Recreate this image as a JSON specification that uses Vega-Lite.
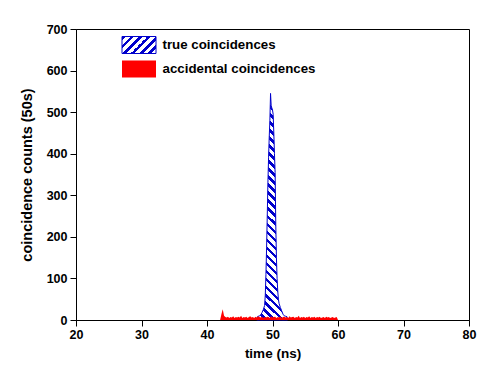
{
  "$schema": "https://vega.github.io/schema/vega-lite/v6.json",
  "width": 393,
  "height": 291,
  "autosize": {"type": "none"},
  "padding": {"left": 76, "top": 29, "right": 22, "bottom": 48},
  "background": "white",
  "config": {
    "font": "Liberation Sans",
    "view": {"stroke": "black", "strokeWidth": 1},
    "axis": {
      "grid": false,
      "domainColor": "black",
      "tickColor": "black",
      "labelColor": "black",
      "titleColor": "black",
      "labelFont": "Liberation Sans",
      "titleFont": "Liberation Sans",
      "labelFontWeight": "bold",
      "titleFontWeight": "bold",
      "labelFontSize": 12.5,
      "labelFlush": false,
      "tickSize": 6
    },
    "legend": {
      "title": null,
      "orient": "none",
      "padding": 0,
      "offset": 0,
      "labelFont": "Liberation Sans",
      "labelFontWeight": "bold",
      "labelFontSize": 13.3,
      "labelColor": "black",
      "labelOffset": 14.5,
      "symbolType": "M-2,-1L2,-1L2,1L-2,1Z",
      "symbolSize": 289,
      "symbolStrokeWidth": 1,
      "symbolOpacity": 1
    }
  },
  "data": {
    "values": [
      {"time": 47.6, "counts": 0, "series": "true coincidences"},
      {"time": 47.7, "counts": 8, "series": "true coincidences"},
      {"time": 48.0, "counts": 10, "series": "true coincidences"},
      {"time": 48.2, "counts": 12, "series": "true coincidences"},
      {"time": 48.4, "counts": 18, "series": "true coincidences"},
      {"time": 48.6, "counts": 25, "series": "true coincidences"},
      {"time": 48.8, "counts": 35, "series": "true coincidences"},
      {"time": 48.9, "counts": 60, "series": "true coincidences"},
      {"time": 49.0, "counts": 110, "series": "true coincidences"},
      {"time": 49.1, "counts": 175, "series": "true coincidences"},
      {"time": 49.2, "counts": 250, "series": "true coincidences"},
      {"time": 49.3, "counts": 330, "series": "true coincidences"},
      {"time": 49.4, "counts": 390, "series": "true coincidences"},
      {"time": 49.5, "counts": 440, "series": "true coincidences"},
      {"time": 49.6, "counts": 480, "series": "true coincidences"},
      {"time": 49.7, "counts": 545, "series": "true coincidences"},
      {"time": 49.8, "counts": 515, "series": "true coincidences"},
      {"time": 49.9, "counts": 510, "series": "true coincidences"},
      {"time": 50.0, "counts": 505, "series": "true coincidences"},
      {"time": 50.1, "counts": 495, "series": "true coincidences"},
      {"time": 50.2, "counts": 450, "series": "true coincidences"},
      {"time": 50.3, "counts": 400, "series": "true coincidences"},
      {"time": 50.4, "counts": 355, "series": "true coincidences"},
      {"time": 50.5, "counts": 230, "series": "true coincidences"},
      {"time": 50.6, "counts": 150, "series": "true coincidences"},
      {"time": 50.7, "counts": 100, "series": "true coincidences"},
      {"time": 50.8, "counts": 70, "series": "true coincidences"},
      {"time": 50.9, "counts": 50, "series": "true coincidences"},
      {"time": 51.0, "counts": 40, "series": "true coincidences"},
      {"time": 51.2, "counts": 30, "series": "true coincidences"},
      {"time": 51.4, "counts": 22, "series": "true coincidences"},
      {"time": 51.6, "counts": 14, "series": "true coincidences"},
      {"time": 51.8, "counts": 10, "series": "true coincidences"},
      {"time": 52.0, "counts": 9, "series": "true coincidences"},
      {"time": 52.2, "counts": 8, "series": "true coincidences"},
      {"time": 52.3, "counts": 0, "series": "true coincidences"},
      {"time": 42.0, "counts": 0, "series": "accidental coincidences"},
      {"time": 42.2, "counts": 14, "series": "accidental coincidences"},
      {"time": 42.4, "counts": 26, "series": "accidental coincidences"},
      {"time": 42.6, "counts": 10, "series": "accidental coincidences"},
      {"time": 42.8, "counts": 7, "series": "accidental coincidences"},
      {"time": 43.0, "counts": 6, "series": "accidental coincidences"},
      {"time": 43.2, "counts": 8, "series": "accidental coincidences"},
      {"time": 43.4, "counts": 5, "series": "accidental coincidences"},
      {"time": 43.6, "counts": 7, "series": "accidental coincidences"},
      {"time": 43.8, "counts": 6, "series": "accidental coincidences"},
      {"time": 44.0, "counts": 9, "series": "accidental coincidences"},
      {"time": 44.2, "counts": 5, "series": "accidental coincidences"},
      {"time": 44.4, "counts": 7, "series": "accidental coincidences"},
      {"time": 44.6, "counts": 6, "series": "accidental coincidences"},
      {"time": 44.8, "counts": 8, "series": "accidental coincidences"},
      {"time": 45.0, "counts": 6, "series": "accidental coincidences"},
      {"time": 45.2, "counts": 10, "series": "accidental coincidences"},
      {"time": 45.4, "counts": 5, "series": "accidental coincidences"},
      {"time": 45.6, "counts": 7, "series": "accidental coincidences"},
      {"time": 45.8, "counts": 6, "series": "accidental coincidences"},
      {"time": 46.0, "counts": 8, "series": "accidental coincidences"},
      {"time": 46.2, "counts": 5, "series": "accidental coincidences"},
      {"time": 46.4, "counts": 7, "series": "accidental coincidences"},
      {"time": 46.6, "counts": 9, "series": "accidental coincidences"},
      {"time": 46.8, "counts": 6, "series": "accidental coincidences"},
      {"time": 47.0, "counts": 7, "series": "accidental coincidences"},
      {"time": 47.2, "counts": 5, "series": "accidental coincidences"},
      {"time": 47.4, "counts": 8, "series": "accidental coincidences"},
      {"time": 47.6, "counts": 6, "series": "accidental coincidences"},
      {"time": 47.8, "counts": 9, "series": "accidental coincidences"},
      {"time": 48.0, "counts": 7, "series": "accidental coincidences"},
      {"time": 48.2, "counts": 6, "series": "accidental coincidences"},
      {"time": 48.4, "counts": 8, "series": "accidental coincidences"},
      {"time": 48.6, "counts": 5, "series": "accidental coincidences"},
      {"time": 48.8, "counts": 7, "series": "accidental coincidences"},
      {"time": 49.0, "counts": 6, "series": "accidental coincidences"},
      {"time": 49.2, "counts": 8, "series": "accidental coincidences"},
      {"time": 49.4, "counts": 7, "series": "accidental coincidences"},
      {"time": 49.6, "counts": 5, "series": "accidental coincidences"},
      {"time": 49.8, "counts": 9, "series": "accidental coincidences"},
      {"time": 50.0, "counts": 6, "series": "accidental coincidences"},
      {"time": 50.2, "counts": 7, "series": "accidental coincidences"},
      {"time": 50.4, "counts": 8, "series": "accidental coincidences"},
      {"time": 50.6, "counts": 5, "series": "accidental coincidences"},
      {"time": 50.8, "counts": 7, "series": "accidental coincidences"},
      {"time": 51.0, "counts": 6, "series": "accidental coincidences"},
      {"time": 51.2, "counts": 9, "series": "accidental coincidences"},
      {"time": 51.4, "counts": 5, "series": "accidental coincidences"},
      {"time": 51.6, "counts": 7, "series": "accidental coincidences"},
      {"time": 51.8, "counts": 8, "series": "accidental coincidences"},
      {"time": 52.0, "counts": 6, "series": "accidental coincidences"},
      {"time": 52.2, "counts": 7, "series": "accidental coincidences"},
      {"time": 52.4, "counts": 5, "series": "accidental coincidences"},
      {"time": 52.6, "counts": 9, "series": "accidental coincidences"},
      {"time": 52.8, "counts": 6, "series": "accidental coincidences"},
      {"time": 53.0, "counts": 7, "series": "accidental coincidences"},
      {"time": 53.2, "counts": 8, "series": "accidental coincidences"},
      {"time": 53.4, "counts": 5, "series": "accidental coincidences"},
      {"time": 53.6, "counts": 7, "series": "accidental coincidences"},
      {"time": 53.8, "counts": 6, "series": "accidental coincidences"},
      {"time": 54.0, "counts": 10, "series": "accidental coincidences"},
      {"time": 54.2, "counts": 5, "series": "accidental coincidences"},
      {"time": 54.4, "counts": 7, "series": "accidental coincidences"},
      {"time": 54.6, "counts": 6, "series": "accidental coincidences"},
      {"time": 54.8, "counts": 8, "series": "accidental coincidences"},
      {"time": 55.0, "counts": 5, "series": "accidental coincidences"},
      {"time": 55.2, "counts": 7, "series": "accidental coincidences"},
      {"time": 55.4, "counts": 6, "series": "accidental coincidences"},
      {"time": 55.6, "counts": 9, "series": "accidental coincidences"},
      {"time": 55.8, "counts": 5, "series": "accidental coincidences"},
      {"time": 56.0, "counts": 7, "series": "accidental coincidences"},
      {"time": 56.2, "counts": 6, "series": "accidental coincidences"},
      {"time": 56.4, "counts": 8, "series": "accidental coincidences"},
      {"time": 56.6, "counts": 5, "series": "accidental coincidences"},
      {"time": 56.8, "counts": 7, "series": "accidental coincidences"},
      {"time": 57.0, "counts": 6, "series": "accidental coincidences"},
      {"time": 57.2, "counts": 8, "series": "accidental coincidences"},
      {"time": 57.4, "counts": 5, "series": "accidental coincidences"},
      {"time": 57.6, "counts": 6, "series": "accidental coincidences"},
      {"time": 57.8, "counts": 7, "series": "accidental coincidences"},
      {"time": 58.0, "counts": 5, "series": "accidental coincidences"},
      {"time": 58.2, "counts": 8, "series": "accidental coincidences"},
      {"time": 58.4, "counts": 6, "series": "accidental coincidences"},
      {"time": 58.6, "counts": 7, "series": "accidental coincidences"},
      {"time": 58.8, "counts": 5, "series": "accidental coincidences"},
      {"time": 59.0, "counts": 6, "series": "accidental coincidences"},
      {"time": 59.2, "counts": 7, "series": "accidental coincidences"},
      {"time": 59.4, "counts": 5, "series": "accidental coincidences"},
      {"time": 59.6, "counts": 6, "series": "accidental coincidences"},
      {"time": 59.8, "counts": 7, "series": "accidental coincidences"},
      {"time": 60.0, "counts": 0, "series": "accidental coincidences"}
    ]
  },
  "encoding": {
    "x": {
      "field": "time",
      "type": "quantitative",
      "title": "time (ns)",
      "scale": {"domain": [20, 80], "nice": false},
      "axis": {"values": [20, 30, 40, 50, 60, 70, 80], "titleFontSize": 13.5, "titlePadding": 6, "labelPadding": 2}
    },
    "y": {
      "field": "counts",
      "type": "quantitative",
      "title": "coincidence counts (50s)",
      "scale": {"domain": [0, 700], "nice": false},
      "axis": {"values": [0, 100, 200, 300, 400, 500, 600, 700], "titleFontSize": 14.5, "titlePadding": 12, "labelPadding": 3}
    }
  },
  "layer": [
    {
      "transform": [{"filter": "datum.series === 'true coincidences'"}],
      "mark": {
        "type": "area",
        "stroke": "#0000cc",
        "strokeWidth": 1,
        "fill": {
          "gradient": "linear",
          "x1": 0, "y1": 1, "x2": 0.1506, "y2": -0.1147,
          "stops": [
            {"offset": 0, "color": "#0000cc"}, {"offset": 0.0141, "color": "#0000cc"}, {"offset": 0.0141, "color": "#ffffff"}, {"offset": 0.0313, "color": "#ffffff"},
            {"offset": 0.0313, "color": "#0000cc"}, {"offset": 0.0453, "color": "#0000cc"}, {"offset": 0.0453, "color": "#ffffff"}, {"offset": 0.0625, "color": "#ffffff"},
            {"offset": 0.0625, "color": "#0000cc"}, {"offset": 0.0766, "color": "#0000cc"}, {"offset": 0.0766, "color": "#ffffff"}, {"offset": 0.0938, "color": "#ffffff"},
            {"offset": 0.0938, "color": "#0000cc"}, {"offset": 0.1078, "color": "#0000cc"}, {"offset": 0.1078, "color": "#ffffff"}, {"offset": 0.125, "color": "#ffffff"},
            {"offset": 0.125, "color": "#0000cc"}, {"offset": 0.1391, "color": "#0000cc"}, {"offset": 0.1391, "color": "#ffffff"}, {"offset": 0.1563, "color": "#ffffff"},
            {"offset": 0.1563, "color": "#0000cc"}, {"offset": 0.1703, "color": "#0000cc"}, {"offset": 0.1703, "color": "#ffffff"}, {"offset": 0.1875, "color": "#ffffff"},
            {"offset": 0.1875, "color": "#0000cc"}, {"offset": 0.2016, "color": "#0000cc"}, {"offset": 0.2016, "color": "#ffffff"}, {"offset": 0.2188, "color": "#ffffff"},
            {"offset": 0.2188, "color": "#0000cc"}, {"offset": 0.2328, "color": "#0000cc"}, {"offset": 0.2328, "color": "#ffffff"}, {"offset": 0.25, "color": "#ffffff"},
            {"offset": 0.25, "color": "#0000cc"}, {"offset": 0.2641, "color": "#0000cc"}, {"offset": 0.2641, "color": "#ffffff"}, {"offset": 0.2813, "color": "#ffffff"},
            {"offset": 0.2813, "color": "#0000cc"}, {"offset": 0.2953, "color": "#0000cc"}, {"offset": 0.2953, "color": "#ffffff"}, {"offset": 0.3125, "color": "#ffffff"},
            {"offset": 0.3125, "color": "#0000cc"}, {"offset": 0.3266, "color": "#0000cc"}, {"offset": 0.3266, "color": "#ffffff"}, {"offset": 0.3438, "color": "#ffffff"},
            {"offset": 0.3438, "color": "#0000cc"}, {"offset": 0.3578, "color": "#0000cc"}, {"offset": 0.3578, "color": "#ffffff"}, {"offset": 0.375, "color": "#ffffff"},
            {"offset": 0.375, "color": "#0000cc"}, {"offset": 0.3891, "color": "#0000cc"}, {"offset": 0.3891, "color": "#ffffff"}, {"offset": 0.4063, "color": "#ffffff"},
            {"offset": 0.4063, "color": "#0000cc"}, {"offset": 0.4203, "color": "#0000cc"}, {"offset": 0.4203, "color": "#ffffff"}, {"offset": 0.4375, "color": "#ffffff"},
            {"offset": 0.4375, "color": "#0000cc"}, {"offset": 0.4516, "color": "#0000cc"}, {"offset": 0.4516, "color": "#ffffff"}, {"offset": 0.4688, "color": "#ffffff"},
            {"offset": 0.4688, "color": "#0000cc"}, {"offset": 0.4828, "color": "#0000cc"}, {"offset": 0.4828, "color": "#ffffff"}, {"offset": 0.5, "color": "#ffffff"},
            {"offset": 0.5, "color": "#0000cc"}, {"offset": 0.5141, "color": "#0000cc"}, {"offset": 0.5141, "color": "#ffffff"}, {"offset": 0.5313, "color": "#ffffff"},
            {"offset": 0.5313, "color": "#0000cc"}, {"offset": 0.5453, "color": "#0000cc"}, {"offset": 0.5453, "color": "#ffffff"}, {"offset": 0.5625, "color": "#ffffff"},
            {"offset": 0.5625, "color": "#0000cc"}, {"offset": 0.5766, "color": "#0000cc"}, {"offset": 0.5766, "color": "#ffffff"}, {"offset": 0.5938, "color": "#ffffff"},
            {"offset": 0.5938, "color": "#0000cc"}, {"offset": 0.6078, "color": "#0000cc"}, {"offset": 0.6078, "color": "#ffffff"}, {"offset": 0.625, "color": "#ffffff"},
            {"offset": 0.625, "color": "#0000cc"}, {"offset": 0.6391, "color": "#0000cc"}, {"offset": 0.6391, "color": "#ffffff"}, {"offset": 0.6563, "color": "#ffffff"},
            {"offset": 0.6563, "color": "#0000cc"}, {"offset": 0.6703, "color": "#0000cc"}, {"offset": 0.6703, "color": "#ffffff"}, {"offset": 0.6875, "color": "#ffffff"},
            {"offset": 0.6875, "color": "#0000cc"}, {"offset": 0.7016, "color": "#0000cc"}, {"offset": 0.7016, "color": "#ffffff"}, {"offset": 0.7188, "color": "#ffffff"},
            {"offset": 0.7188, "color": "#0000cc"}, {"offset": 0.7328, "color": "#0000cc"}, {"offset": 0.7328, "color": "#ffffff"}, {"offset": 0.75, "color": "#ffffff"},
            {"offset": 0.75, "color": "#0000cc"}, {"offset": 0.7641, "color": "#0000cc"}, {"offset": 0.7641, "color": "#ffffff"}, {"offset": 0.7813, "color": "#ffffff"},
            {"offset": 0.7813, "color": "#0000cc"}, {"offset": 0.7953, "color": "#0000cc"}, {"offset": 0.7953, "color": "#ffffff"}, {"offset": 0.8125, "color": "#ffffff"},
            {"offset": 0.8125, "color": "#0000cc"}, {"offset": 0.8266, "color": "#0000cc"}, {"offset": 0.8266, "color": "#ffffff"}, {"offset": 0.8438, "color": "#ffffff"},
            {"offset": 0.8438, "color": "#0000cc"}, {"offset": 0.8578, "color": "#0000cc"}, {"offset": 0.8578, "color": "#ffffff"}, {"offset": 0.875, "color": "#ffffff"},
            {"offset": 0.875, "color": "#0000cc"}, {"offset": 0.8891, "color": "#0000cc"}, {"offset": 0.8891, "color": "#ffffff"}, {"offset": 0.9063, "color": "#ffffff"},
            {"offset": 0.9063, "color": "#0000cc"}, {"offset": 0.9203, "color": "#0000cc"}, {"offset": 0.9203, "color": "#ffffff"}, {"offset": 0.9375, "color": "#ffffff"},
            {"offset": 0.9375, "color": "#0000cc"}, {"offset": 0.9516, "color": "#0000cc"}, {"offset": 0.9516, "color": "#ffffff"}, {"offset": 0.9688, "color": "#ffffff"},
            {"offset": 0.9688, "color": "#0000cc"}, {"offset": 0.9828, "color": "#0000cc"}, {"offset": 0.9828, "color": "#ffffff"}, {"offset": 1, "color": "#ffffff"}
          ]
        }
      }
    },
    {
      "transform": [{"filter": "datum.series === 'legend only'"}],
      "mark": {
        "type": "area",
        "fill": {
          "gradient": "linear",
          "x1": 0, "y1": 0, "x2": 1.2, "y2": 0.6,
          "stops": [
            {"offset": 0, "color": "#0000cc"}, {"offset": 0.075, "color": "#0000cc"}, {"offset": 0.075, "color": "#ffffff"}, {"offset": 0.1667, "color": "#ffffff"},
            {"offset": 0.1667, "color": "#0000cc"}, {"offset": 0.2417, "color": "#0000cc"}, {"offset": 0.2417, "color": "#ffffff"}, {"offset": 0.3333, "color": "#ffffff"},
            {"offset": 0.3333, "color": "#0000cc"}, {"offset": 0.4083, "color": "#0000cc"}, {"offset": 0.4083, "color": "#ffffff"}, {"offset": 0.5, "color": "#ffffff"},
            {"offset": 0.5, "color": "#0000cc"}, {"offset": 0.575, "color": "#0000cc"}, {"offset": 0.575, "color": "#ffffff"}, {"offset": 0.6667, "color": "#ffffff"},
            {"offset": 0.6667, "color": "#0000cc"}, {"offset": 0.7417, "color": "#0000cc"}, {"offset": 0.7417, "color": "#ffffff"}, {"offset": 0.8333, "color": "#ffffff"},
            {"offset": 0.8333, "color": "#0000cc"}, {"offset": 0.9083, "color": "#0000cc"}, {"offset": 0.9083, "color": "#ffffff"}, {"offset": 1, "color": "#ffffff"}
          ]
        }
      },
      "encoding": {
        "stroke": {
          "field": "series",
          "type": "nominal",
          "scale": {"domain": ["true coincidences"], "range": ["#0000cc"]},
          "legend": {"legendX": 54, "legendY": 7}
        }
      }
    },
    {
      "transform": [{"filter": "datum.series === 'accidental coincidences'"}],
      "mark": {"type": "area", "opacity": 1},
      "encoding": {
        "fill": {
          "field": "series",
          "type": "nominal",
          "scale": {"domain": ["accidental coincidences"], "range": ["#ff0000"]},
          "legend": {"legendX": 54, "legendY": 31}
        }
      }
    }
  ]
}
